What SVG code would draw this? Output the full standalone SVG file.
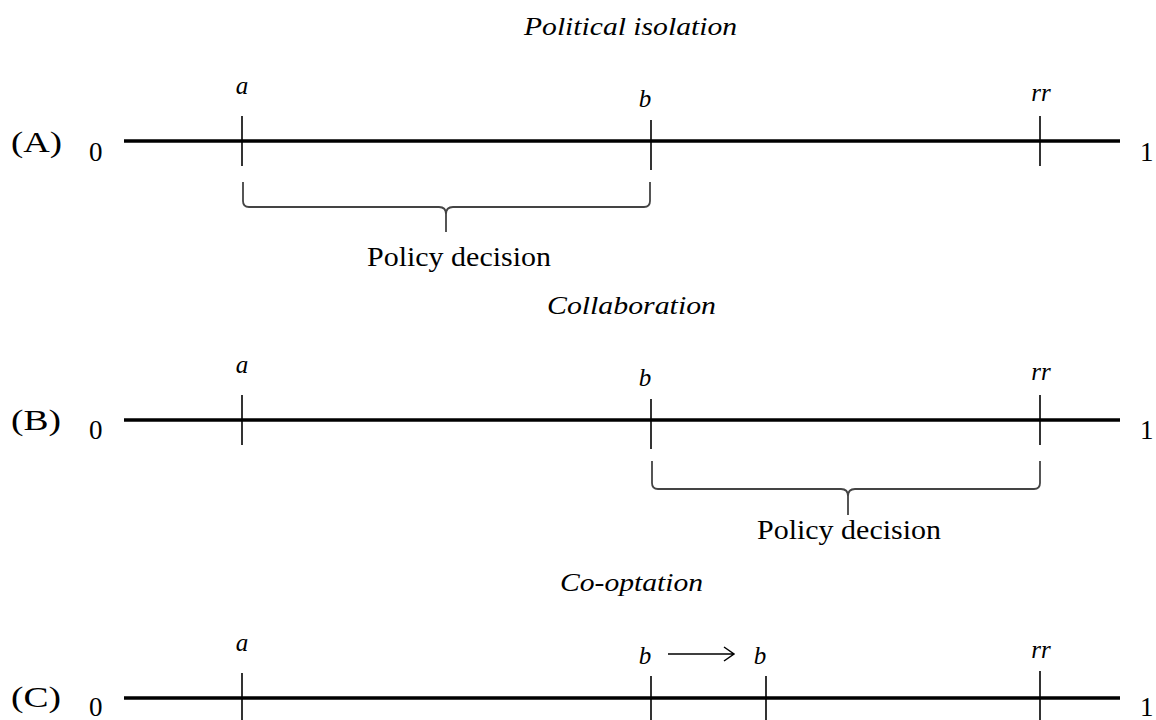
<svg xmlns="http://www.w3.org/2000/svg" width="1156" height="720" viewBox="0 0 1156 720">
<style>
.axis{stroke:#000;stroke-width:3.5;fill:none}
.tick{stroke:#000;stroke-width:1.6;fill:none}
.brace{stroke:#444;stroke-width:1.8;fill:none}
.arr{stroke:#000;stroke-width:1.5;fill:none}
.t{font-family:"Liberation Serif","Times New Roman",serif;fill:#000}
.it{font-family:"Liberation Serif","Times New Roman",serif;font-style:italic;fill:#000}
.title{font-size:26px;text-anchor:start}
.lab{font-size:25px;text-anchor:middle}
.num{font-size:27px}
.sec{font-size:30px}
.pd{font-size:27px}
</style>
<rect width="1156" height="720" fill="#fff"/>

<g id="panelA">
  <text class="it title" x="524" y="35" textLength="213" lengthAdjust="spacingAndGlyphs">Political isolation</text>
  <text class="t sec" x="11" y="152" textLength="51" lengthAdjust="spacingAndGlyphs">(A)</text>
  <text class="t num" x="89" y="161">0</text>
  <text class="t num" x="1140" y="161">1</text>
  <line class="axis" x1="124" y1="141" x2="1120" y2="141"/>
  <line class="tick" x1="242" y1="116" x2="242" y2="166"/>
  <line class="tick" x1="651" y1="120" x2="651" y2="170"/>
  <line class="tick" x1="1040" y1="116" x2="1040" y2="166"/>
  <text class="it lab" x="242" y="94">a</text>
  <text class="it lab" x="645" y="107">b</text>
  <text class="it lab" x="1041" y="101">rr</text>
  <path class="brace" d="M243,182 V201 Q243,207 249,207 H439 Q446,207 446,214 V232 M446,214 Q446,207 453,207 H644 Q650,207 650,201 V182"/>
  <text class="t pd" x="367" y="266" textLength="184" lengthAdjust="spacingAndGlyphs">Policy decision</text>
</g>

<g id="panelB">
  <text class="it title" x="547" y="314" textLength="169" lengthAdjust="spacingAndGlyphs">Collaboration</text>
  <text class="t sec" x="11" y="430" textLength="50" lengthAdjust="spacingAndGlyphs">(B)</text>
  <text class="t num" x="89" y="439">0</text>
  <text class="t num" x="1140" y="439">1</text>
  <line class="axis" x1="124" y1="420" x2="1120" y2="420"/>
  <line class="tick" x1="242" y1="395" x2="242" y2="445"/>
  <line class="tick" x1="651" y1="399" x2="651" y2="449"/>
  <line class="tick" x1="1040" y1="395" x2="1040" y2="445"/>
  <text class="it lab" x="242" y="373">a</text>
  <text class="it lab" x="645" y="386">b</text>
  <text class="it lab" x="1041" y="380">rr</text>
  <path class="brace" d="M652,461 V483 Q652,489 658,489 H841 Q848,489 848,496 V515 M848,496 Q848,489 855,489 H1034 Q1040,489 1040,483 V461"/>
  <text class="t pd" x="757" y="539" textLength="184" lengthAdjust="spacingAndGlyphs">Policy decision</text>
</g>

<g id="panelC">
  <text class="it title" x="560" y="591" textLength="143" lengthAdjust="spacingAndGlyphs">Co-optation</text>
  <text class="t sec" x="11" y="707" textLength="50" lengthAdjust="spacingAndGlyphs">(C)</text>
  <text class="t num" x="89" y="716">0</text>
  <text class="t num" x="1140" y="716">1</text>
  <line class="axis" x1="124" y1="698" x2="1120" y2="698"/>
  <line class="tick" x1="242" y1="673" x2="242" y2="720"/>
  <line class="tick" x1="651" y1="676" x2="651" y2="720"/>
  <line class="tick" x1="766" y1="676" x2="766" y2="720"/>
  <line class="tick" x1="1040" y1="671" x2="1040" y2="720"/>
  <text class="it lab" x="242" y="651">a</text>
  <text class="it lab" x="645" y="664">b</text>
  <text class="it lab" x="760" y="664">b</text>
  <text class="it lab" x="1041" y="658">rr</text>
</g>

<g id="connectors">
  <path class="arr" d="M668,654 H733 M724,647 L734,654 L724,661"/>
</g>
</svg>
